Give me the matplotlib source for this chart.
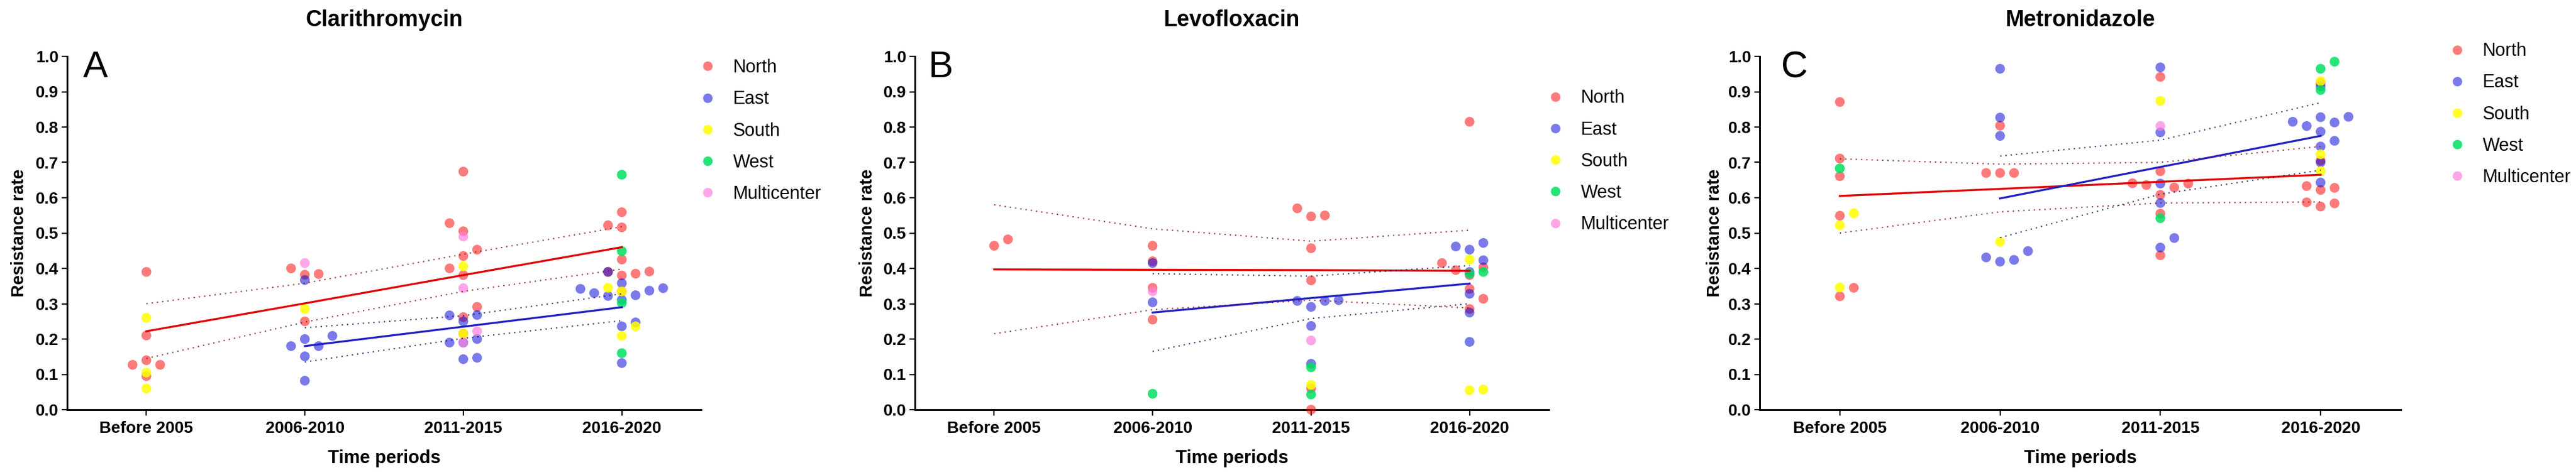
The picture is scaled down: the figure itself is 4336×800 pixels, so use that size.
import matplotlib
matplotlib.use("Agg")
import matplotlib.pyplot as plt
import numpy as np
from matplotlib.lines import Line2D

nan = np.nan

periods = ["Before 2005", "2006-2010", "2011-2015", "2016-2020"]
regions = ["North", "East", "South", "West", "Multicenter"]

# Clarithromycin: resistance rates per period (one list per period)
cla_north = [[0.39, 0.21, 0.14, 0.127, 0.127, 0.095],
             [0.40, 0.384, 0.382, 0.25],
             [0.674, 0.528, 0.505, 0.453, 0.435, 0.40, 0.381, 0.291, 0.262, 0.215],
             [0.559, 0.522, 0.516, 0.425, 0.391, 0.39, 0.385, 0.38, 0.335]]
cla_east = [[],
            [0.367, 0.209, 0.20, 0.18, 0.18, 0.151, 0.082],
            [0.268, 0.267, 0.25, 0.20, 0.19, 0.19, 0.147, 0.143],
            [0.39, 0.358, 0.344, 0.342, 0.337, 0.33, 0.324, 0.322, 0.311, 0.247, 0.236, 0.132]]
cla_south = [[0.26, 0.105, 0.06], [0.285], [0.406, 0.215], [0.345, 0.335, 0.236, 0.209]]
cla_west = [[], [], [], [0.665, 0.449, 0.302, 0.16]]
cla_multi = [[], [0.415], [0.49, 0.344, 0.222, 0.19], []]
cla_fit_north = [0.222, 0.301, 0.381, 0.46]
cla_ci_north = ([0.145, 0.248, 0.335, 0.398], [0.30, 0.358, 0.44, 0.518])
cla_fit_east = [nan, 0.18, 0.235, 0.29]
cla_ci_east = ([nan, 0.135, 0.202, 0.252], [nan, 0.232, 0.266, 0.328])

# Levofloxacin
lev_north = [[0.464, 0.482],
             [0.464, 0.42, 0.345, 0.255],
             [0.57, 0.55, 0.547, 0.457, 0.366, 0.06, 0.0],
             [0.815, 0.415, 0.403, 0.395, 0.381, 0.342, 0.314, 0.285]]
lev_east = [[],
            [0.415, 0.304],
            [0.308, 0.308, 0.31, 0.291, 0.237, 0.13],
            [0.472, 0.462, 0.453, 0.423, 0.39, 0.328, 0.275, 0.192]]
lev_south = [[], [], [0.07], [0.425, 0.057, 0.055]]
lev_west = [[], [0.045], [0.12, 0.043], [0.39, 0.385]]
lev_multi = [[], [0.335], [0.196], []]
lev_fit_north = [0.397, 0.396, 0.395, 0.393]
lev_ci_north = ([0.215, 0.283, 0.31, 0.288], [0.58, 0.512, 0.477, 0.508])
lev_fit_east = [nan, 0.275, 0.316, 0.357]
lev_ci_east = ([nan, 0.165, 0.258, 0.30], [nan, 0.385, 0.378, 0.408])

# Metronidazole
met_north = [[0.871, 0.711, 0.661, 0.549, 0.345, 0.321],
             [0.804, 0.67, 0.67, 0.67],
             [0.942, 0.675, 0.641, 0.64, 0.636, 0.629, 0.608, 0.555, 0.437],
             [0.925, 0.705, 0.633, 0.628, 0.622, 0.587, 0.584, 0.575]]
met_east = [[],
            [0.965, 0.827, 0.775, 0.449, 0.431, 0.424, 0.419],
            [0.969, 0.785, 0.64, 0.585, 0.486, 0.459],
            [0.915, 0.829, 0.828, 0.815, 0.813, 0.803, 0.787, 0.761, 0.745, 0.70, 0.643]]
met_south = [[0.556, 0.522, 0.346], [0.475], [0.874], [0.93, 0.723, 0.675]]
met_west = [[0.683], [], [0.542], [0.985, 0.965, 0.905]]
met_multi = [[], [], [0.803], []]
met_fit_north = [0.605, 0.625, 0.645, 0.665]
met_ci_north = ([0.50, 0.56, 0.585, 0.588], [0.71, 0.695, 0.70, 0.745])
met_fit_east = [nan, 0.598, 0.687, 0.775]
met_ci_east = ([nan, 0.487, 0.61, 0.678], [nan, 0.718, 0.763, 0.869])

region_colors = ["#FF0000", "#0000D8", "#FFFF00", "#00E060", "#FF80E0"]
region_alpha = [0.52, 0.52, 0.85, 0.85, 0.7]

panels = [
    dict(title="Clarithromycin", letter="A", rect=(113, 95, 1180, 690),
         series=[cla_north, cla_east, cla_south, cla_west, cla_multi],
         fit_n=cla_fit_north, ci_n=cla_ci_north, fit_e=cla_fit_east, ci_e=cla_ci_east,
         letter_x=0.025, ylab_x=-0.0757, leg=(0.996, 0.993)),
    dict(title="Levofloxacin", letter="B", rect=(1540, 95, 2607, 690),
         series=[lev_north, lev_east, lev_south, lev_west, lev_multi],
         fit_n=lev_fit_north, ci_n=lev_ci_north, fit_e=lev_fit_east, ci_e=lev_ci_east,
         letter_x=0.0216, ylab_x=-0.075, leg=(0.996, 0.907)),
    dict(title="Metronidazole", letter="C", rect=(2962, 95, 4041, 690),
         series=[met_north, met_east, met_south, met_west, met_multi],
         fit_n=met_fit_north, ci_n=met_ci_north, fit_e=met_fit_east, ci_e=met_ci_east,
         letter_x=0.033, ylab_x=-0.0704, leg=(1.0738, 1.040)),
]


def swarm(vals, step=0.087, tol=0.035):
    # simple column scatter: points too close in value get pushed sideways,
    # alternating right/left
    vals = np.asarray(vals, dtype=float)
    out = np.zeros(len(vals))
    used = {}
    side = 1
    for i in np.argsort(vals, kind="stable"):
        v = vals[i]

        def free(s):
            return all(abs(v - u) >= tol for u in used.get(s, []))

        slot = 0
        if not free(0):
            k = 1
            while True:
                if free(side * k):
                    slot = side * k
                    break
                if free(-side * k):
                    slot = -side * k
                    break
                k += 1
            side = -int(np.sign(slot))
        used.setdefault(slot, []).append(v)
        out[i] = slot * step
    return out


plt.rcParams["font.family"] = ["Liberation Sans", "DejaVu Sans"]
W, H = 4336, 800
fig = plt.figure(figsize=(W / 100, H / 100), dpi=100)
xpos = np.arange(len(periods))

for p in panels:
    l, t, r, b = p["rect"]
    ax = fig.add_axes([l / W, 1 - b / H, (r - l) / W, (b - t) / H])

    for series, col, a in zip(p["series"], region_colors, region_alpha):
        for i, vals in enumerate(series):
            if not vals:
                continue
            xs = i + swarm(vals)
            ax.scatter(xs, vals, s=140, color=col, alpha=a, edgecolors="none",
                       clip_on=False, zorder=3)

    # linear fits with 95% bands
    ax.plot(xpos, p["fit_n"], color="#E00000", lw=2.4, zorder=4)
    ax.plot(xpos, p["fit_e"], color="#2020C0", lw=2.4, zorder=4)
    for band in p["ci_n"]:
        ax.plot(xpos, band, color="#8B1010", lw=1.6, ls=(0, (1, 3)), alpha=0.8, zorder=4)
    for band in p["ci_e"]:
        ax.plot(xpos, band, color="#101060", lw=1.6, ls=(0, (1, 3)), alpha=0.8, zorder=4)

    ax.set_xlim(-0.5, 3.5)
    ax.set_ylim(0, 1.0)
    ax.set_xticks(xpos)
    ax.set_xticklabels(periods)
    ax.set_yticks(np.arange(0, 1.01, 0.1))
    ax.set_yticklabels([f"{v:.1f}" for v in np.arange(0, 1.01, 0.1)])
    for lab in ax.get_xticklabels() + ax.get_yticklabels():
        lab.set_fontweight("bold")
        lab.set_fontsize(20)
    ax.tick_params(axis="x", length=7, width=1.6, pad=6.5)
    ax.tick_params(axis="y", length=6.5, width=1.6, pad=4)
    for s in ["top", "right"]:
        ax.spines[s].set_visible(False)
    for s in ["left", "bottom"]:
        ax.spines[s].set_linewidth(2.2)

    ax.set_ylabel("Resistance rate", fontsize=21, fontweight="bold", va="center")
    ax.yaxis.set_label_coords(p["ylab_x"], 0.5)
    ax.set_xlabel("Time periods", fontsize=22, fontweight="bold", va="baseline")
    ax.xaxis.set_label_coords(0.5, -0.151)

    ax.text(0.5, 1.0857, p["title"], transform=ax.transAxes, ha="center",
            va="baseline", fontsize=27, fontweight="bold")
    ax.text(p["letter_x"], 0.941, p["letter"], transform=ax.transAxes, ha="left",
            va="baseline", fontsize=45)

    handles = [Line2D([], [], marker="o", ls="", markersize=11.5, markerfacecolor=c,
                      markeredgewidth=0, alpha=a)
               for c, a in zip(region_colors, region_alpha)]
    ax.legend(handles, regions, loc="upper left", bbox_to_anchor=p["leg"],
              frameon=False, fontsize=22, borderpad=0, borderaxespad=0,
              handlelength=1.0, handletextpad=0.9, labelspacing=0.76)

fig.savefig("out.png", dpi=100)
